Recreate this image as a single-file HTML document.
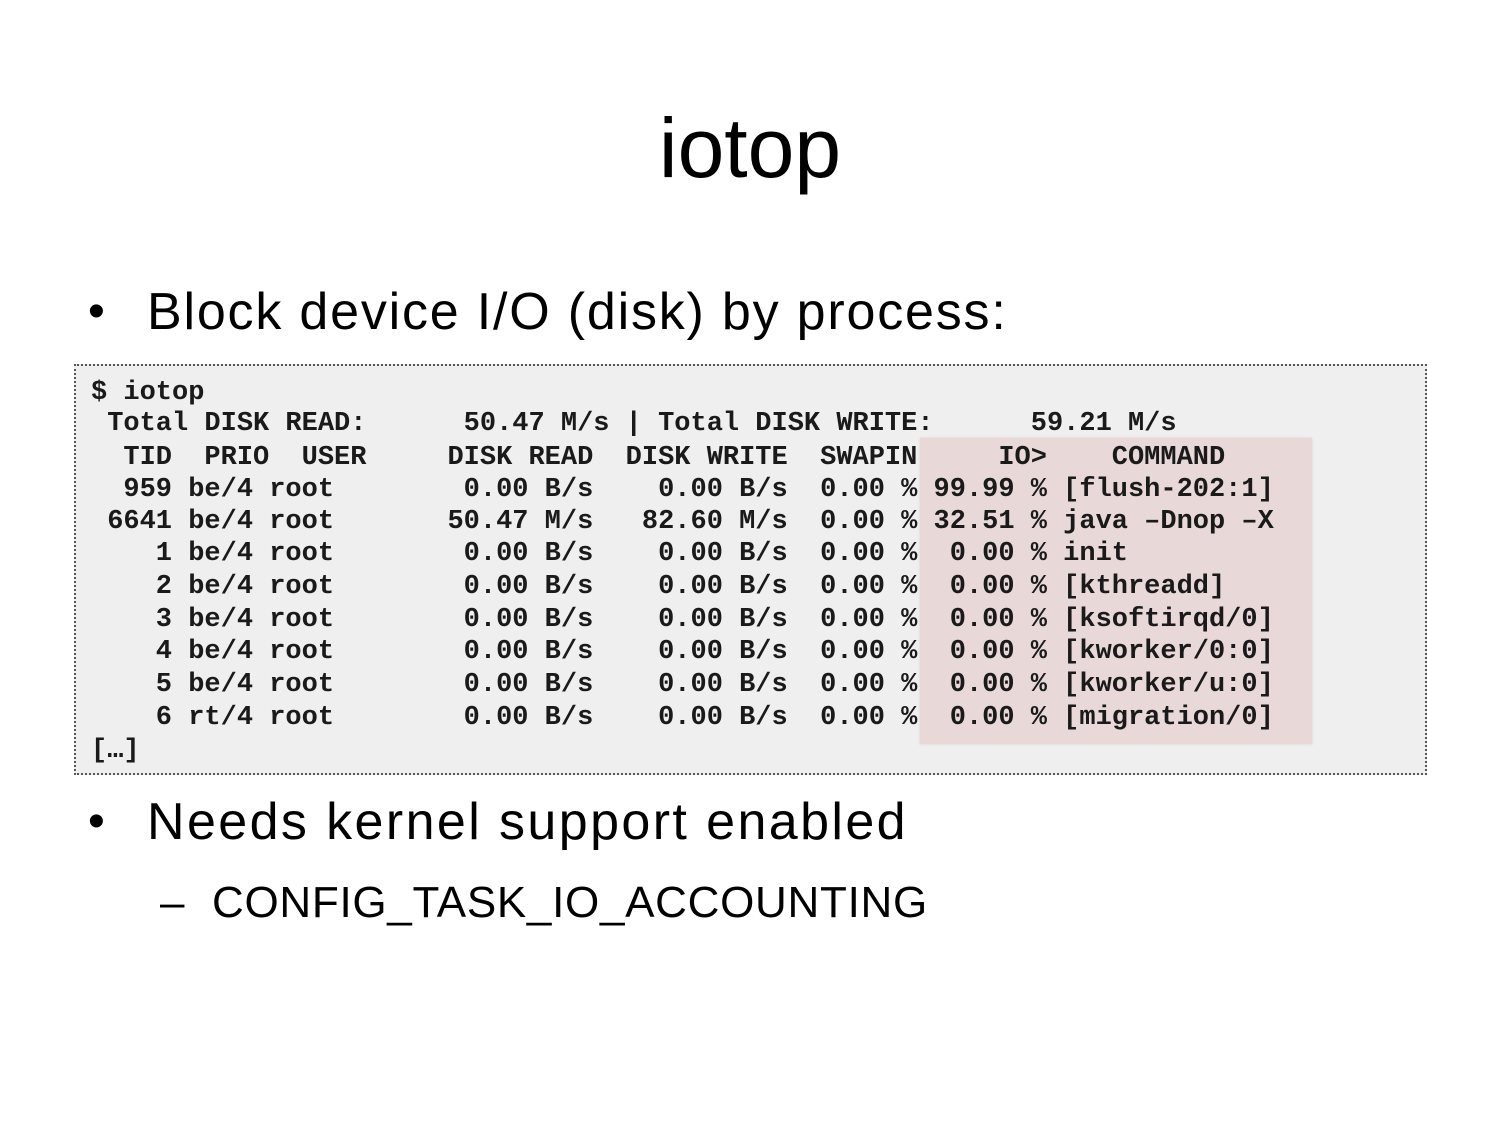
<!DOCTYPE html>
<html><head><meta charset="utf-8"><style>
body{margin:0;width:1500px;height:1125px;background:#fff;position:relative;overflow:hidden;font-family:"Liberation Sans",sans-serif;color:#000}
.t{position:absolute;white-space:pre}
.m{position:absolute;left:91px;font:bold 27px/27px "Liberation Mono",monospace;color:#1a1a1a;white-space:pre}
</style></head><body>
<div class="t" style="left:0;width:1500px;text-align:center;top:98px;font-size:84px;line-height:100px">iotop</div>
<div class="t" style="left:88px;top:282px;font-size:48px;line-height:60px">•</div>
<div class="t" style="left:147px;top:280px;font-size:52px;line-height:64px;letter-spacing:1.8px">Block device I/O (disk) by process:</div>
<div style="position:absolute;left:74px;top:364px;width:1349px;height:407px;border:2px dotted #555;background:#efefef"></div>
<div style="position:absolute;left:920px;top:438px;width:392px;height:306px;background:#e8d8d7;box-shadow:0 0 3px #e0d0d0"></div>
<div class="m" style="top:380px">$ iotop</div>
<div class="m" style="top:411px"> Total DISK READ:      50.47 M/s | Total DISK WRITE:      59.21 M/s</div>
<div class="m" style="top:445px">  TID  PRIO  USER     DISK READ  DISK WRITE  SWAPIN     IO&gt;    COMMAND</div>
<div class="m" style="top:477px">  959 be/4 root        0.00 B/s    0.00 B/s  0.00 % 99.99 % [flush-202:1]</div>
<div class="m" style="top:509px"> 6641 be/4 root       50.47 M/s   82.60 M/s  0.00 % 32.51 % java –Dnop –X</div>
<div class="m" style="top:541px">    1 be/4 root        0.00 B/s    0.00 B/s  0.00 %  0.00 % init</div>
<div class="m" style="top:574px">    2 be/4 root        0.00 B/s    0.00 B/s  0.00 %  0.00 % [kthreadd]</div>
<div class="m" style="top:607px">    3 be/4 root        0.00 B/s    0.00 B/s  0.00 %  0.00 % [ksoftirqd/0]</div>
<div class="m" style="top:639px">    4 be/4 root        0.00 B/s    0.00 B/s  0.00 %  0.00 % [kworker/0:0]</div>
<div class="m" style="top:672px">    5 be/4 root        0.00 B/s    0.00 B/s  0.00 %  0.00 % [kworker/u:0]</div>
<div class="m" style="top:705px">    6 rt/4 root        0.00 B/s    0.00 B/s  0.00 %  0.00 % [migration/0]</div>
<div class="m" style="top:738px">[…]</div>
<div class="t" style="left:88px;top:792px;font-size:48px;line-height:60px">•</div>
<div class="t" style="left:147px;top:790px;font-size:52px;line-height:64px;letter-spacing:2.4px">Needs kernel support enabled</div>
<div class="t" style="left:160px;top:875px;font-size:44px;line-height:56px">–</div>
<div class="t" style="left:212px;top:875px;font-size:44px;line-height:56px;letter-spacing:0.7px">CONFIG_TASK_IO_ACCOUNTING</div>
</body></html>
